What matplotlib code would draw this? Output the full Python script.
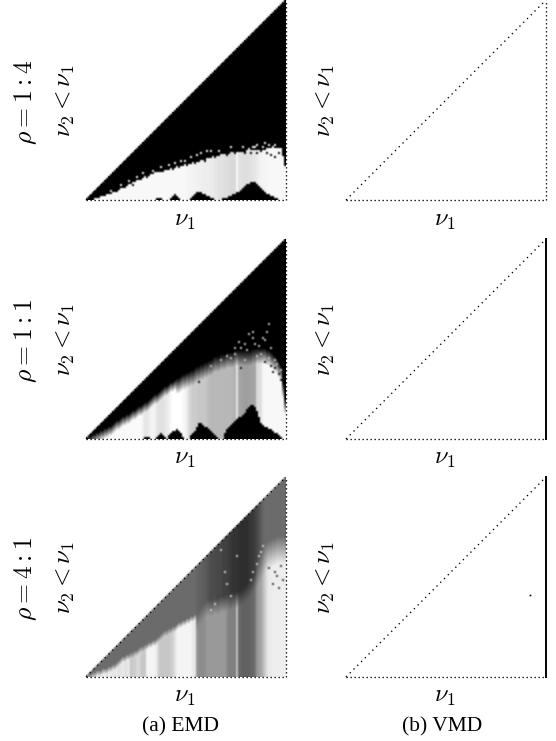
import numpy as np
import matplotlib
matplotlib.use("Agg")
import matplotlib.pyplot as plt

plt.rcParams['font.family'] = ['Liberation Serif', 'DejaVu Serif']
plt.rcParams['mathtext.fontset'] = 'cm'

# EMD panels, one value per column (nu1), height in grid rows (nu2)
boundary_14 = [0,0,0,0,1,1,1,2,2,2, 3,3,3,4,4,5,5,6,6,7,
               7,8,8,9,9,10,10,11,11,12, 12,12,13,13,13,14,14,14,15,15,
               15,15,16,16,16,17,17,17,17,18, 18,18,18,19,19,19,19,20,20,20,
               21,21,21,22,22,22,22,23,23,23, 23,23,24,24,24,24,24,24,24,24,
               25,25,25,25,25,25,25,25,25,25, 26,26,26,26,26,26,26,26,22,17]
mound_14 = [0]*35 + [1,1,1,0,0,0,0, 1,2,3,2,1,0,0,0,0,0, 1,2,3,4,4,4,3,3,2,2,1,1,0,0,0,0,
            1,1, 1,2,2,3,3,4,4,5,6,7, 8,8,9,9,9,8,7,6,5,4, 3,3,2,2,1,1,0,0,0,0]
grey_14 = [.97]*50 + [.96,.96,.95,.95,.95,.94,.94,.94,.93,.93, .93,.93,.92,.92,.90,.90,.88,.88,.88,.87,
           .87,.86,.85,.85,.85,.97,.88,.88,.87,.87, .87,.88,.88,.90,.90,.92,.94,.95,.96,.96,
           .96,.97,.97,.97,.97,.97,.97,.97,.97,.97]
fade_14 = [1]*100
speck_col_14 = [12,17,21,25,28,33,37,41,44,47,49,52,55,57,60,62,66,72,78,81,83,84,85,88,89,91,93,94,
                15,19,23,27,30,34,38,43,46,50,54,59,64,70,74,79,82,85,87,90,92,94,96]
speck_row_14 = [4,7,9,11,13,14,16,17,18,19,19,21,22,23,24,24,24,26,26,25,26,26,27,26,28,27,26,27,
                4,6,7,10,11,13,14,15,16,17,18,19,21,22,23,23,23,23,24,23,22,21,23]

boundary_11 = [0,1,1,2,2,3,3,4,4,5, 5,6,6,7,8,9,9,10,11,11,
               12,12,13,14,14,15,16,16,17,18, 18,19,20,21,22,22,23,24,25,26,
               26,27,28,28,29,30,30,31,32,32, 33,33,34,34,35,36,36,37,37,38,
               38,39,39,40,41,41,41,42,42,42, 43,43,43,43,44,44,44,44,44,44,
               44,44,44,45,45,45,45,45,45,45, 44,44,43,42,41,40,38,36,28,20]
mound_11 = [0]*28 + [0,1,1,1,0,0,0,1,2,3,2,1, 0,2,3,4,4,5,4,3,1,0, 0,0,2,3,4,6,8,8,7,6,
            6,5,4,3,2,1,0,0,0,3, 5,6,7,8,9,10,11,11,12,13, 15,16,17,17,16,14,11,8,7,6,
            6,5,5,4,3,3,2,1,0,0]
grey_11 = [.98]*28 + [.94,.90,.90,.92,.95,.96,.94,.90,.88,.88,.88,.90,.92,.94,.98,1,1,1,1,1,.98,.96,
           .92,.86,.82,.80,.80,.79,.78,.78,.78,.78, .76,.74,.72,.72,.72,.72,.72,.72,.72,.72,
           .72,.72,.72,.71,.70,.88,.66,.64,.63,.62, .62,.63,.64,.64,.65,.85,.86,.88,.96,.97,
           .97,.97,.97,.97,.97,.97,.97,.97,.97,.97]
fade_11 = [5]*45 + [8]*55
speck_col_11 = [91,83,90,81,88,89,79,83,84,74,77,92,80,76,86,
                67,70,74,79,87,89,92,94,93,96,97,94,77,62,56,72,85,91,95,97]
speck_row_11 = [57,53,53,52,50,49,47,50,47,45,45,45,44,48,46,
                39,41,42,39,42,38,36,35,33,32,29,39,35,36,28,40,41,40,37,34]

boundary_41 = [0,1,1,2,2,3,3,3,4,4, 4,5,5,6,6,7,8,9,10,10,
               11,11,12,12,13,13,14,15,15,16, 16,17,17,18,18,19,20,21,22,23,
               23,24,24,25,25,26,27,27,28,28, 29,29,30,30,31,31,33,34,36,37,
               38,38,38,38,39,39,39,40,40,40, 41,41,41,42,42,42,43,43,44,45,
               46,47,48,50,52,58,60,62,64,66, 67,68,68,69,69,70,70,70,70,70]
top_41 = [.42]*55 + [.40,.38,.38,.37,.36,.34,.32,.30,.30,.30, .28,.28,.28,.26,.26,.25,.24,.22,.20,.20,
          .20,.18,.18,.18,.18,.18,.20,.22,.22,.25, .28,.32,.36,.40,.42,.42,.42,.42,.42,.42,
          .42,.42,.42,.42,.42]
low_41 = [.93,.93,.93,.92,.90,.92,.93,.90,.92,.93, .90,.92,.92,.90,.90,.92,.88,.90,.92,.88,
          .90,.90,.78,.80,.80,.85,.85,.80,.78,.78, .95,.96,.96,.96,.95,.90,.80,.78,.78,.78,
          .78,.78,.80,.82,.88,.95,.96,.96,.96,.96, .96,.96,.95,.92,.90,.60,.55,.55,.55,.56,
          .60,.60,.60,.60,.60,.60,.60,.60,.60,.60, .55,.50,.50,.50,.50,.75,.42,.40,.38,.38,
          .38,.38,.40,.40,.45,.58,.62,.65,.72,.80, .88,.92,.92,.93,.93,.93,.93,.93,.93,.93]
fade_41 = [3]*55 + [8]*30 + [14]*15
speck_col_41 = [88,87,86,85,83,82, 97,94,98,95,91,93,96, 69,72,67,70,64,62,75]
speck_row_41 = [65,62,60,56,52,48, 55,52,48,50,54,46,44, 52,40,63,46,36,33,60]

# VMD panels, the isolated failure of the bottom case
vmd_point_col = [92]
vmd_point_row = [41]

# speck_light, speck_dark are the grey levels of the scattered cells in each panel
emd_panels = [(boundary_14, mound_14, grey_14, [0]*100, fade_14, speck_col_14, speck_row_14, .95, 0.),
              (boundary_11, mound_11, grey_11, [0]*100, fade_11, speck_col_11, speck_row_11, .75, 0.1),
              (boundary_41, [0]*100, low_41, top_41, fade_41, speck_col_41, speck_row_41, .80, .25)]
row_labels = [r'$\rho = 1:4$', r'$\rho = 1:1$', r'$\rho = 4:1$']
row_tops = [0, 239, 477]
W, H = 556, 741


def panel(left, top):
    ax = fig.add_axes([left/W, 1-(top+200)/H, 200/W, 200/H])
    ax.set_xlim(0, 100)
    ax.set_ylim(0, 100)
    ax.axis('off')
    return ax


def dotted(ax, x, y, gap=2):
    ax.plot(x, y, color='k', lw=0.96, linestyle=(0, (1, gap)), clip_on=False, zorder=3)


fig = plt.figure(figsize=(W/100, H/100), dpi=100)
cmap = plt.get_cmap('gray').copy()
cmap.set_bad('white')

for i, (bound, mound, low, up, fade, sc, sr, s_light, s_dark) in enumerate(emd_panels):
    ax = panel(86, row_tops[i])
    img = np.full((100, 100), np.nan)
    for c in range(100):
        for r in range(c+1):
            if r < mound[c]:
                v = 0.0
            elif r < bound[c]:
                t = min(1.0, (bound[c]-r)/fade[c])
                v = low[c]*t+up[c]*(1-t)
            else:
                v = up[c]
            img[r, c] = v
    for c, r in zip(sc, sr):
        img[r, c] = s_light if img[r, c] < 0.5 else s_dark
    ax.imshow(img, origin='lower', extent=(0, 100, 0, 100), cmap=cmap, vmin=0, vmax=1,
              interpolation='bilinear', interpolation_stage='rgba', aspect='auto')
    dotted(ax, [0, 100], [0, 0])
    dotted(ax, [0, 100], [0, 100], gap=3)
    dotted(ax, [100, 100], [0, 100])

    ax = panel(346, row_tops[i])
    dotted(ax, [0, 100], [0, 0])
    dotted(ax, [0, 100], [0, 100], gap=3)
    if i == 0:
        dotted(ax, [100, 100], [0, 100])
    else:
        ax.plot([100, 100], [0, 100], color='k', lw=1.4, clip_on=False)
    if i == 2:
        ax.plot(vmd_point_col, vmd_point_row, 's', color='k', ms=1.2, mew=0)

    for x in (185, 445):
        fig.text(x/W, 1-(row_tops[i]+221)/H, r'$\nu_1$', fontsize=17.5, ha='center', va='center')
    for x in (66, 326):
        fig.text(x/W, 1-(row_tops[i]+101)/H, r'$\nu_2 < \nu_1$', fontsize=18, rotation=90,
                 ha='center', va='center')
    fig.text(26/W, 1-(row_tops[i]+102)/H, row_labels[i], fontsize=18.5, rotation=90,
             ha='center', va='center')

fig.text(181/W, 1-727/H, '(a) EMD', fontsize=15.5, ha='center', va='center')
fig.text(442/W, 1-727/H, '(b) VMD', fontsize=15.5, ha='center', va='center')

fig.savefig('out.png', dpi=100)
